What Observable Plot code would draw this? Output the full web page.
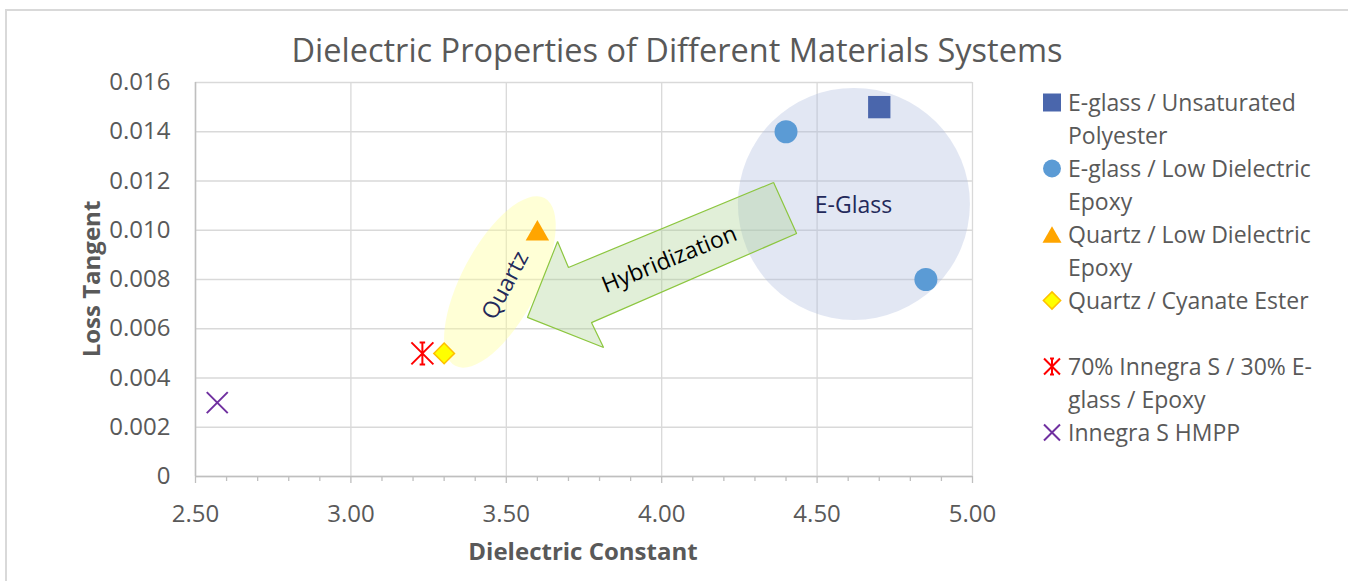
<!DOCTYPE html>
<html><head><meta charset="utf-8">
<script src="https://cdn.jsdelivr.net/npm/d3@7"></script>
<script src="https://cdn.jsdelivr.net/npm/@observablehq/plot@0.6"></script>
<style>
body{margin:0;background:#fff;}
#wrap{position:relative;width:1348px;height:581px;overflow:hidden;font-family:"Open Sans",sans-serif;}
#frame{position:absolute;left:5px;top:9px;width:1400px;height:620px;border:2px solid #D9D9D9;box-sizing:border-box;}
#title{position:absolute;left:0;width:1354px;top:34px;text-align:center;font-size:32.5px;color:#595959;line-height:1;white-space:nowrap;}
#chart{position:absolute;left:0;top:0;}
.axt{position:absolute;font-size:24px;font-weight:bold;color:#595959;line-height:1;white-space:nowrap;}
#xtitle{left:583px;top:551px;transform:translate(-50%,-50%);}
#ytitle{left:91px;top:279px;transform:translate(-50%,-50%) rotate(-90deg);}
#legend{position:absolute;left:1040px;top:86px;font-size:23px;color:#595959;line-height:33px;white-space:nowrap;}
.item{display:flex;align-items:flex-start;}
.mk{width:24px;height:33px;flex:none;margin-right:4px;display:block;}
</style></head><body>
<div id="wrap"><div id="frame"></div><div id="title"></div><div id="chart"></div>
<div id="xtitle" class="axt"></div><div id="ytitle" class="axt"></div><div id="legend"></div></div>
<script>
// ---- text ----
const chartTitle = "Dielectric Properties of Different Materials Systems";
const xTitle = "Dielectric Constant";
const yTitle = "Loss Tangent";

// ---- series ----
const seriesNames = [
  "E-glass / Unsaturated Polyester",
  "E-glass / Low Dielectric Epoxy",
  "Quartz / Low Dielectric Epoxy",
  "Quartz / Cyanate Ester",
  "70% Innegra S / 30% E-glass / Epoxy",
  "Innegra S HMPP"
];
const legendLines = [
  ["E-glass / Unsaturated", "Polyester"],
  ["E-glass / Low Dielectric", "Epoxy"],
  ["Quartz / Low Dielectric", "Epoxy"],
  ["Quartz / Cyanate Ester", "\u00a0"],
  ["70% Innegra S / 30% E-", "glass / Epoxy"],
  ["Innegra S HMPP"]
];
const pointSeries        = [0, 1, 1, 2, 3, 4, 5];
const dielectricConstant = [4.70, 4.40, 4.85, 3.60, 3.30, 3.23, 2.57];
const lossTangent        = [0.015, 0.014, 0.008, 0.010, 0.005, 0.005, 0.003];

// ---- ticks ----
const xTicks = [2.5, 3.0, 3.5, 4.0, 4.5, 5.0];
const xMinorTicks = [2.6, 2.7, 2.8, 2.9, 3.1, 3.2, 3.3, 3.4, 3.6, 3.7, 3.8, 3.9, 4.1, 4.2, 4.3, 4.4, 4.6, 4.7, 4.8, 4.9];
const yTicks = [0, 0.002, 0.004, 0.006, 0.008, 0.010, 0.012, 0.014, 0.016];

// ---- annotations (data coordinates) ----
const annotationLabels = ["E-Glass", "Quartz", "Hybridization"];
const annotationX      = [4.617, 3.497, 4.025];
const annotationY      = [0.0110, 0.00776, 0.00881];
const annotationRotate = [0, -62, -22];
const ellipseCenterX = [4.620, 3.481];
const ellipseCenterY = [0.01105, 0.00788];
const arrowX = [4.360, 4.434, 3.774, 3.813, 3.568, 3.665, 3.700, 4.360];
const arrowY = [0.01194, 0.00987, 0.00625, 0.00524, 0.00646, 0.00954, 0.00849, 0.01194];

// ---- styles ----
const asterisk = {
  draw(ctx, size) {
    const h = Math.sqrt(size / Math.PI);
    const c = h * 0.25;
    ctx.moveTo(0, -h); ctx.lineTo(0, h);
    ctx.moveTo(-h, -h); ctx.lineTo(h, h);
    ctx.moveTo(-h, h); ctx.lineTo(h, -h);
    ctx.moveTo(-c, -h); ctx.lineTo(c, -h);
    ctx.moveTo(-c, h); ctx.lineTo(c, h);
  }
};
const seriesStyle = [
  {symbol: "square",   r: 12.6, fill: "#4A66AC", stroke: "none", strokeWidth: 0, dy: 0,   lsize: 324},
  {symbol: "circle",   r: 11.5, fill: "#5B9BD5", stroke: "none", strokeWidth: 0, dy: 0,   lsize: 254},
  {symbol: "triangle", r: 8.7,  fill: "#FFA500", stroke: "none", strokeWidth: 0, dy: 3.4, lsize: 156},
  {symbol: "diamond2", r: 9.3,  fill: "#FFFF00", stroke: "#FFC000", strokeWidth: 1.5, dy: 0, lsize: 190},
  {symbol: asterisk,   r: 11,   fill: "none", stroke: "#FF0000", strokeWidth: 2, dy: 0, lsize: 200},
  {symbol: "times",    r: 9.6,  fill: "none", stroke: "#7030A0", strokeWidth: 2, dy: 0, lsize: 169}
];

const points = pointSeries.map((s, i) => ({s, series: seriesNames[s], x: dielectricConstant[i], y: lossTangent[i]}));
const arrow = arrowX.map((x, i) => ({x, y: arrowY[i]}));
const notes = annotationLabels.map((t, i) => ({t, x: annotationX[i], y: annotationY[i], r: annotationRotate[i]}));

function ellipseMark(i, rx, ry, angle, fill, opacity) {
  return (index, scales) => {
    const cx = scales.x(ellipseCenterX[i]), cy = scales.y(ellipseCenterY[i]);
    const el = document.createElementNS("http://www.w3.org/2000/svg", "ellipse");
    el.setAttribute("cx", cx); el.setAttribute("cy", cy);
    el.setAttribute("rx", rx); el.setAttribute("ry", ry);
    el.setAttribute("transform", `rotate(${angle} ${cx} ${cy})`);
    el.setAttribute("fill", fill); el.setAttribute("fill-opacity", opacity);
    return el;
  };
}

const dotMarks = seriesStyle.map((st, k) => Plot.dot(points.filter(d => d.s === k), {
  x: "x", y: "y", symbol: st.symbol, r: st.r, fill: st.fill, stroke: st.stroke,
  strokeWidth: st.strokeWidth, dy: st.dy
}));

const chart = Plot.plot({
  width: 1000, height: 581,
  marginLeft: 195, marginRight: 28, marginTop: 82, marginBottom: 105,
  style: {fontFamily: "Open Sans", fontSize: "24px", color: "#595959", background: "transparent", overflow: "visible"},
  x: {domain: [2.5, 5.0], label: null},
  y: {domain: [0, 0.016], label: null},
  marks: [
    Plot.gridX(xTicks, {stroke: "#D9D9D9", strokeOpacity: 1, strokeWidth: 1.3}),
    Plot.gridY(yTicks, {stroke: "#D9D9D9", strokeOpacity: 1, strokeWidth: 1.3}),
    ellipseMark(0, 116, 116, 0, "#ADB9DC", 0.35),
    ellipseMark(1, 38, 95, 28, "#FFFF99", 0.4),
    Plot.line(arrow, {x: "x", y: "y", fill: "#A9D18E", fillOpacity: 0.35, stroke: "#8CC63F", strokeWidth: 1.2, strokeLinejoin: "miter", strokeLinecap: "butt"}),
    Plot.text(notes, {x: "x", y: "y", text: "t", rotate: "r", fontSize: 23,
      fill: d => d.t === "Hybridization" ? "#000000" : "#23295A"}),
    Plot.axisX(xMinorTicks, {tickSize: 5, tickFormat: () => "", stroke: "#BFBFBF", strokeWidth: 1.3, label: null}),
    Plot.axisX(xTicks, {tickSize: 7, tickPadding: 21, tickFormat: d => d.toFixed(2), stroke: "#BFBFBF", strokeWidth: 1.3, label: null, fill: "#595959"}),
    Plot.axisY(yTicks, {tickSize: 0, tickPadding: 25, tickFormat: d => d === 0 ? "0" : d3.format(".3f")(d), label: null, fill: "#595959"}),
    Plot.ruleX([2.5], {stroke: "#BFBFBF", strokeWidth: 1.5}),
    Plot.ruleY([0], {stroke: "#BFBFBF", strokeWidth: 1.5}),
    ...dotMarks
  ]
});
document.getElementById("chart").appendChild(chart);
document.getElementById("title").textContent = chartTitle;
document.getElementById("xtitle").textContent = xTitle;
document.getElementById("ytitle").textContent = yTitle;

// ---- legend ----
const legend = d3.select("#legend");
seriesStyle.forEach((st, k) => {
  const item = legend.append("div").attr("class", "item");
  const svg = item.append("svg").attr("class", "mk").attr("width", 24).attr("height", 33);
  const sym = typeof st.symbol === "string" ? d3["symbol" + st.symbol[0].toUpperCase() + st.symbol.slice(1)] : st.symbol;
  svg.append("path")
    .attr("transform", `translate(12,${16.5 + st.dy * 0.8})`)
    .attr("d", d3.symbol(sym, st.lsize)())
    .attr("fill", st.fill).attr("stroke", st.stroke === "none" ? null : st.stroke)
    .attr("stroke-width", st.strokeWidth);
  const txt = item.append("div");
  legendLines[k].forEach(line => txt.append("div").text(line));
});
</script>
</body></html>
